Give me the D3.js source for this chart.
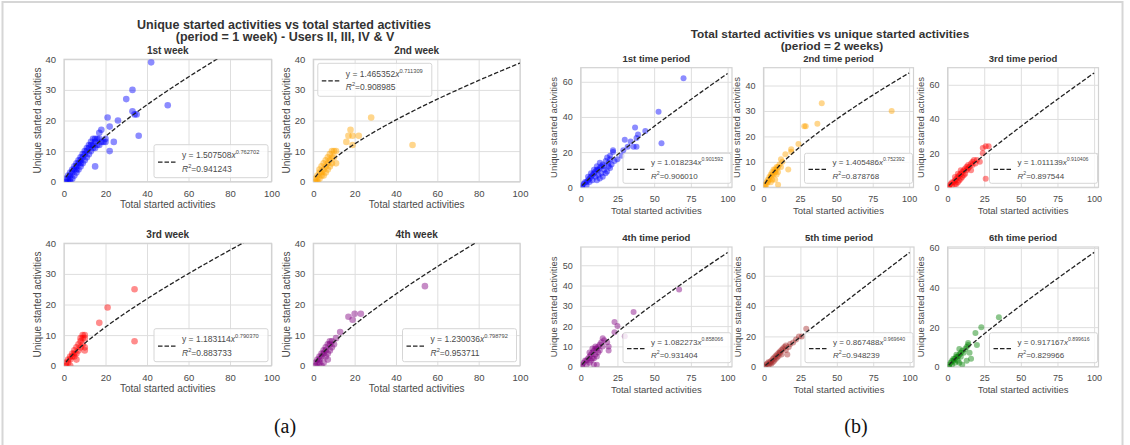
<!DOCTYPE html>
<html>
<head>
<meta charset="utf-8">
<script src="https://cdn.jsdelivr.net/npm/d3@7"></script>
<style>
  body { margin: 0; background: #fff; }
  svg { display: block; }
</style>
</head>
<body>
<div id="chart"></div>
<script>
// Figure size
const FRAME_WIDTH = 1130;
const FRAME_HEIGHT = 445;

// Shared labels
const X_LABEL = "Total started activities";
const Y_LABEL = "Unique started activities";

// ---- panel (a): one week periods ----
const WEEK_TITLES = ["1st week", "2nd week", "3rd week", "4th week"];
const WEEK_COEF = ["1.507508", "1.465352", "1.183114", "1.230036"];
const WEEK_EXP = ["0.762702", "0.711309", "0.790370", "0.798792"];
const WEEK_R2 = ["0.941243", "0.908985", "0.883733", "0.953711"];
const WEEK_COLORS = ["#0000ff", "#ffa500", "#ff0000", "#800080"];
const WEEK_XTICKS = [0, 20, 40, 60, 80, 100];
const WEEK_YTICKS = [0, 10, 20, 30, 40];

// [total, unique] points
const WEEK1_PTS = [[42,39],[33,30],[30,27],[50,25],[33,23],[34,22],[35,22],[36,15],[21,21],[26,20],[22,18],
  [18,17],[17,16],[24,13],[22,10],[20,14],[15,5],[1,1],[2,2],[2,1],[3,3],[3,2],[4,4],[4,3],[5,5],[5,4],
  [6,6],[6,5],[7,7],[7,6],[8,7],[8,8],[9,8],[9,9],[10,9],[10,10],[11,10],[11,11],[12,11],[12,12],[13,12],
  [13,13],[14,12],[14,14],[15,13],[15,14],[16,14],[16,12],[12,9],[10,7],[8,5],[6,3],[5,2],[4,1],[3,1],
  [2,0],[1,0],[7,4],[9,6],[11,8],[13,10],[17,14],[18,13],[19,13],[20,13],[17,12],[14,11],[15,11],[3,0],[6,4],[8,6]];
const WEEK2_PTS = [[28,21],[48,12],[18,17],[17,15],[19,15],[22,15],[16,13],[19,12],[11,6],[10,10],[9,10],
  [11,10],[8,9],[9,8],[7,8],[8,7],[6,7],[7,6],[5,6],[6,5],[5,4],[4,5],[4,3],[3,4],[3,3],[2,2],[2,1],[1,1],
  [1,0],[3,1],[6,3],[5,2],[8,5],[9,6],[10,8],[7,4],[4,2],[2,0]];
const WEEK3_PTS = [[34,25],[21,19],[17,14],[34,8],[10,10],[9,9],[10,9],[8,8],[9,7],[8,6],[7,7],[6,6],[10,6],
  [10,5],[5,5],[5,4],[4,4],[4,3],[3,3],[3,2],[2,2],[2,1],[1,1],[1,0],[6,2],[5,3],[7,5],[6,4],[3,0],[9,10],[8,9]];
const WEEK4_PTS = [[54,26],[20,17],[23,17],[17,16],[19,15],[13,11],[11,9],[9,8],[8,7],[7,2],[8,8],[7,7],
  [6,6],[6,5],[5,5],[5,4],[4,4],[4,3],[3,3],[3,2],[2,2],[2,1],[1,1],[1,0],[10,7],[9,6],[7,4],[6,3],[5,1],
  [4,0],[3,1],[8,5]];
const WEEK_PTS = [WEEK1_PTS, WEEK2_PTS, WEEK3_PTS, WEEK4_PTS];

// ---- panel (b): two week periods ----
const PERIOD_TITLES = ["1st time period", "2nd time period", "3rd time period",
                       "4th time period", "5th time period", "6th time period"];
const PERIOD_COEF = ["1.018234", "1.405486", "1.011139", "1.082273", "0.867488", "0.917167"];
const PERIOD_EXP = ["0.901592", "0.752392", "0.910406", "0.858066", "0.969640", "0.899616"];
const PERIOD_R2 = ["0.906010", "0.878768", "0.897544", "0.931404", "0.948239", "0.829966"];
const PERIOD_COLORS = ["#0000ff", "#ffa500", "#ff0000", "#800080", "#a52a2a", "#008000"];
const PERIOD_XTICKS = [0, 25, 50, 75, 100];
const PERIOD_YTICKS = [[0, 20, 40, 60], [0, 10, 20, 30, 40], [0, 20, 40, 60],
                       [0, 10, 20, 30, 40, 50], [0, 20, 40, 60], [0, 20, 40, 60]];

const PERIOD1_PTS = [[70,62],[53,43],[37,34],[44,32],[39,30],[38,28],[30,27],[34,26],[55,25],[36,23],[38,23],
  [32,23],[22,21],[22,20],[29,21],[28,18],[20,18],[18,17],[20,16],[17,15],[19,14],[15,13],[16,12],[14,12],
  [13,11],[12,10],[11,10],[10,9],[9,8],[8,7],[7,6],[6,5],[5,4],[4,3],[3,3],[2,2],[1,1],[1,0],[16,10],[17,8],
  [14,8],[12,7],[10,6],[8,4],[6,3],[4,1],[20,11],[18,9],[15,6],[13,5],[11,4],[19,12],[21,13],[23,15],[25,16],
  [13,14],[11,12],[9,10],[7,8],[5,6]];
const PERIOD2_PTS = [[88,30],[40,33],[37,25],[28,24],[29,24],[24,17],[19,15],[19,14],[15,13],[12,11],[17,7],
  [10,1],[11,9],[10,8],[9,8],[8,7],[7,7],[8,6],[7,5],[6,5],[5,4],[4,4],[4,3],[3,3],[3,2],[2,2],[2,1],[1,1],
  [1,0],[9,5],[6,3],[5,2],[13,10],[12,8],[10,6],[8,3],[6,6],[5,5],[9,7]];
const PERIOD3_PTS = [[26,5],[26,24],[28,24],[24,23],[24,20],[20,16],[22,15],[17,15],[16,14],[14,13],[13,12],
  [12,11],[11,10],[10,9],[9,8],[8,7],[7,6],[6,5],[5,4],[4,3],[3,3],[2,2],[1,1],[1,0],[12,8],[10,6],[8,4],
  [6,2],[15,12],[13,10],[11,7],[9,5],[7,3],[5,2],[3,1],[18,16],[19,14],[14,11],[16,10],[17,13],[9,10],[7,8],[5,6]];
const PERIOD4_PTS = [[67,38],[36,27],[23,22],[25,20],[23,17],[30,15],[15,14],[16,13],[18,12],[19,10],[19,8],
  [11,1],[9,1],[14,12],[13,11],[12,10],[11,9],[10,9],[9,8],[8,7],[7,6],[6,5],[5,4],[4,3],[3,3],[2,2],[1,1],
  [1,0],[12,7],[10,6],[8,4],[6,2],[4,1],[15,10],[13,8],[11,5],[9,4],[7,3],[10,10],[8,9],[6,7]];
const PERIOD5_PTS = [[29,25],[24,20],[26,20],[18,15],[15,14],[14,13],[16,8],[11,10],[12,11],[11,9],[10,9],
  [9,8],[8,7],[7,6],[6,5],[5,4],[4,3],[3,3],[2,2],[1,1],[1,0],[8,5],[6,3],[4,2],[13,12],[10,7],[7,4],[5,2],
  [3,1],[9,6],[12,8],[15,11],[17,13],[20,16],[22,18]];
const PERIOD6_PTS = [[35,25],[23,20],[19,17],[20,11],[14,12],[14,11],[15,7],[16,4],[13,3],[8,9],[10,8],[9,7],
  [8,6],[7,5],[6,5],[5,4],[4,3],[3,3],[2,2],[1,1],[1,0],[7,3],[5,2],[3,1],[9,5],[11,7],[12,9],[6,6],[4,4],
  [10,1],[8,2],[13,10]];
const PERIOD_PTS = [PERIOD1_PTS, PERIOD2_PTS, PERIOD3_PTS, PERIOD4_PTS, PERIOD5_PTS, PERIOD6_PTS];

// ---- layout (pixel boxes of each axes) ----
const A_LAYOUT = [
  {L: 64, R: 271.5, T: 59.3, B: 181.7, legend: "lr"},
  {L: 313.3, R: 520, T: 59.3, B: 181.7, legend: "ul"},
  {L: 64, R: 271.5, T: 243.3, B: 365.7, legend: "lr"},
  {L: 313.3, R: 520, T: 243.3, B: 365.7, legend: "lr"}
];
const B_LAYOUT = [
  {L: 580.7, R: 732, T: 67.7, B: 187.3, ymax: 68},
  {L: 763.5, R: 913.5, T: 67.7, B: 187.3, ymax: 47},
  {L: 947.6, R: 1098.5, T: 67.7, B: 187.3, ymax: 70},
  {L: 580.7, R: 732, T: 247, B: 366.7, ymax: 59},
  {L: 764, R: 914, T: 247, B: 366.7, ymax: 79},
  {L: 947.6, R: 1098.5, T: 247, B: 366.7, ymax: 60.5}
];

const FONT = "'Liberation Sans', Arial, sans-serif";
const GRID = "#dedede";
const TEXT = "#4a4a4a";
const TITLE = "#333333";

const SVG = d3.select("#chart")
  .append("svg")
    .attr("width", FRAME_WIDTH)
    .attr("height", FRAME_HEIGHT)
    .style("font-family", FONT);

SVG.append("rect")
  .attr("width", FRAME_WIDTH).attr("height", FRAME_HEIGHT)
  .attr("fill", "#fff");

// light outer frame of the figure
SVG.append("rect")
  .attr("x", 2.5).attr("y", 2)
  .attr("width", 1120).attr("height", 480)
  .attr("fill", "none")
  .attr("stroke", "#d6d6d6")
  .attr("stroke-width", 2);

let clipCount = 0;

// draws one scatter + power fit subplot
function draw_subplot(box, opts) {
  const g = SVG.append("g");
  const X_SCALE = d3.scaleLinear().domain([0, opts.xmax]).range([box.L, box.R]);
  const Y_SCALE = d3.scaleLinear().domain([0, opts.ymax]).range([box.B, box.T]);

  // x grid + tick labels
  const xa = g.append("g")
    .attr("transform", "translate(0," + box.B + ")")
    .call(d3.axisBottom(X_SCALE).tickValues(opts.xticks)
      .tickSize(-(box.B - box.T)).tickPadding(8.2));
  xa.select(".domain").remove();
  xa.selectAll("line").attr("stroke", GRID).attr("stroke-width", 1);
  xa.selectAll("text").attr("fill", TEXT)
    .style("font-size", opts.tickFs + "px").style("font-family", FONT);

  // y grid + tick labels
  const ya = g.append("g")
    .attr("transform", "translate(" + box.L + ",0)")
    .call(d3.axisLeft(Y_SCALE).tickValues(opts.yticks)
      .tickSize(-(box.R - box.L)).tickPadding(8));
  ya.select(".domain").remove();
  ya.selectAll("line").attr("stroke", GRID).attr("stroke-width", 1);
  ya.selectAll("text").attr("fill", TEXT)
    .style("font-size", opts.tickFs + "px").style("font-family", FONT);

  // axes frame
  g.append("rect")
    .attr("x", box.L).attr("y", box.T)
    .attr("width", box.R - box.L).attr("height", box.B - box.T)
    .attr("fill", "none").attr("stroke", "#d2d2d2").attr("stroke-width", 1.2);

  const clipId = "clip" + (clipCount++);
  g.append("clipPath").attr("id", clipId)
    .append("rect")
      .attr("x", box.L).attr("y", box.T)
      .attr("width", box.R - box.L).attr("height", box.B - box.T);

  const inner = g.append("g").attr("clip-path", "url(#" + clipId + ")");

  // scatter points
  inner.selectAll("circle")
    .data(opts.pts)
    .enter()
    .append("circle")
      .attr("cx", (d) => { return X_SCALE(d[0]); })
      .attr("cy", (d) => { return Y_SCALE(d[1]); })
      .attr("r", opts.r)
      .attr("fill", opts.color)
      .attr("fill-opacity", 0.45);

  // fitted power curve y = a*x^b
  const a = parseFloat(opts.coef), b = parseFloat(opts.exp);
  const xs = d3.range(1, 100.01, 0.5);
  const line = d3.line()
    .x((d) => { return X_SCALE(d); })
    .y((d) => { return Y_SCALE(a * Math.pow(d, b)); });
  inner.append("path")
    .datum(xs)
    .attr("d", line)
    .attr("fill", "none")
    .attr("stroke", "#222")
    .attr("stroke-width", 1.3)
    .attr("stroke-dasharray", "4.5,2");

  // subplot title
  g.append("text")
    .attr("x", (box.L + box.R) / 2)
    .attr("y", box.T - opts.titleGap)
    .attr("text-anchor", "middle")
    .attr("fill", TITLE)
    .style("font-size", opts.titleFs + "px")
    .style("font-weight", "bold")
    .text(opts.title);

  // axis labels
  g.append("text")
    .attr("x", (box.L + box.R) / 2)
    .attr("y", box.B + 26.5)
    .attr("text-anchor", "middle")
    .attr("fill", TEXT)
    .style("font-size", opts.labelFs + "px")
    .text(X_LABEL);

  g.append("text")
    .attr("transform", "translate(" + (box.L - 23.5) + "," + ((box.T + box.B) / 2) + ") rotate(-90)")
    .attr("text-anchor", "middle")
    .attr("fill", TEXT)
    .style("font-size", opts.labelFs + "px")
    .text(Y_LABEL);

  // legend
  const lw = opts.legW, lh = opts.legH;
  let lx, ly;
  if (opts.legend === "ul") {
    lx = box.L + 4.5; ly = box.T + 4;
  } else {
    lx = box.R - lw - opts.legRight; ly = box.B - lh - 4;
  }
  const lg = g.append("g").attr("transform", "translate(" + lx + "," + ly + ")");
  lg.append("rect")
    .attr("width", lw).attr("height", lh)
    .attr("rx", 2)
    .attr("fill", "#fff").attr("fill-opacity", 0.8)
    .attr("stroke", "#d6d6d6").attr("stroke-width", 1);
  lg.append("line")
    .attr("x1", 4).attr("x2", 22)
    .attr("y1", lh / 2 + 1).attr("y2", lh / 2 + 1)
    .attr("stroke", "#222").attr("stroke-width", 1.3)
    .attr("stroke-dasharray", "4.5,2");
  const t1 = lg.append("text")
    .attr("x", 28).attr("y", lh / 2 - 3)
    .attr("fill", TEXT)
    .style("font-size", opts.legFs + "px");
  t1.append("tspan").text("y = " + opts.coef);
  t1.append("tspan").style("font-style", "italic").text("x");
  t1.append("tspan").attr("dy", -4).style("font-size", (opts.legFs - 2.8) + "px").text(opts.exp);
  const t2 = lg.append("text")
    .attr("x", 28).attr("y", lh / 2 + 10.5)
    .attr("fill", TEXT)
    .style("font-size", opts.legFs + "px");
  t2.append("tspan").style("font-style", "italic").text("R");
  t2.append("tspan").attr("dy", -4).style("font-size", (opts.legFs - 2.8) + "px").text("2");
  t2.append("tspan").attr("dy", 4).text("=" + opts.r2);
}

// Builds panel (a)
function build_week_panel() {
  SVG.append("text")
    .attr("x", 284).attr("y", 28.5)
    .attr("text-anchor", "middle").attr("fill", TITLE)
    .style("font-size", "12.5px").style("font-weight", "bold")
    .text("Unique started activities vs total started activities");
  SVG.append("text")
    .attr("x", 285).attr("y", 41)
    .attr("text-anchor", "middle").attr("fill", TITLE)
    .style("font-size", "12.5px").style("font-weight", "bold")
    .text("(period = 1 week) - Users II, III, IV & V");

  for (let i = 0; i < 4; i++) {
    draw_subplot(A_LAYOUT[i], {
      xmax: 100, ymax: 40, xticks: WEEK_XTICKS, yticks: WEEK_YTICKS,
      pts: WEEK_PTS[i], color: WEEK_COLORS[i], r: 3.3,
      coef: WEEK_COEF[i], exp: WEEK_EXP[i], r2: WEEK_R2[i],
      title: WEEK_TITLES[i], titleFs: 10, titleGap: 5.5,
      tickFs: 9.5, labelFs: 10, legFs: 8.5,
      legend: A_LAYOUT[i].legend, legW: 114, legH: 33, legRight: 3.5
    });
  }
}

// Builds panel (b)
function build_period_panel() {
  SVG.append("text")
    .attr("x", 830).attr("y", 37.5)
    .attr("text-anchor", "middle").attr("fill", TITLE)
    .style("font-size", "11.8px").style("font-weight", "bold")
    .text("Total started activities vs unique started activities");
  SVG.append("text")
    .attr("x", 832).attr("y", 49.5)
    .attr("text-anchor", "middle").attr("fill", TITLE)
    .style("font-size", "11.8px").style("font-weight", "bold")
    .text("(period = 2 weeks)");

  for (let i = 0; i < 6; i++) {
    draw_subplot(B_LAYOUT[i], {
      xmax: 103, ymax: B_LAYOUT[i].ymax, xticks: PERIOD_XTICKS, yticks: PERIOD_YTICKS[i],
      pts: PERIOD_PTS[i], color: PERIOD_COLORS[i], r: 3,
      coef: PERIOD_COEF[i], exp: PERIOD_EXP[i], r2: PERIOD_R2[i],
      title: PERIOD_TITLES[i], titleFs: 9.5, titleGap: 6,
      tickFs: 9, labelFs: 9.5, legFs: 8,
      legend: "lr", legW: 108, legH: 30, legRight: 1
    });
  }
}

build_week_panel();
build_period_panel();

// sub-figure captions
SVG.append("text")
  .attr("x", 285).attr("y", 433)
  .attr("text-anchor", "middle").attr("fill", "#111")
  .style("font-family", "'Liberation Serif', 'Times New Roman', serif")
  .style("font-size", "20px")
  .text("(a)");
SVG.append("text")
  .attr("x", 856).attr("y", 433)
  .attr("text-anchor", "middle").attr("fill", "#111")
  .style("font-family", "'Liberation Serif', 'Times New Roman', serif")
  .style("font-size", "20px")
  .text("(b)");
</script>
</body>
</html>
